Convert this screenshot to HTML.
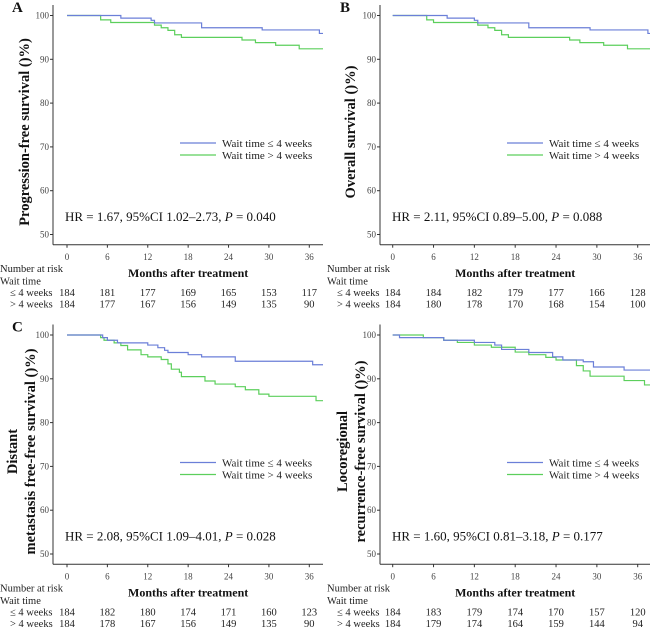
<!DOCTYPE html>
<html><head><meta charset="utf-8"><style>
body{margin:0;background:#fff;}
svg{display:block;font-family:"Liberation Serif",serif;}
</style></head><body>
<svg id="chart" width="650" height="628" viewBox="0 0 650 628" xmlns="http://www.w3.org/2000/svg"></svg>
<script>
const ticksX=[0,6,12,18,24,30,36];
const ticksY=[50,60,70,80,90,100];
const panelLetters=["A","B","C",""];
const yTitles=[["Progression-free survival ()%)"],["Overall survival ()%)"],["Distant","metastasis free-free survival ()%)"],["Locoregional","recurrence-free  survival ()%)"]];
const hrTexts=[["HR = 1.67, 95%CI 1.02–2.73, ","0.040"],["HR = 2.11, 95%CI 0.89–5.00, ","0.088"],["HR = 2.08, 95%CI 1.09–4.01, ","0.028"],["HR = 1.60, 95%CI 0.81–3.18, ","0.177"]];
const riskLow=[[184,181,177,169,165,153,117],[184,184,182,179,177,166,128],[184,182,180,174,171,160,123],[184,183,179,174,170,157,120]];
const riskHigh=[[184,177,167,156,149,135,90],[184,180,178,170,168,154,100],[184,178,167,156,149,135,90],[184,179,174,164,159,144,94]];
// step drops: [month, survival%]
const blueA=[[0,100],[8,99.4],[12.5,98.9],[13,98.3],[20,97.2],[29,96.7],[37.5,95.9]];
const greenA=[[0,100],[5,99],[6.5,98.4],[13,97.8],[14,97.2],[15,96.6],[16,95.6],[17,95.0],[26,94.4],[28,93.8],[31,93.2],[34.5,92.4]];
const blueB=[[0,100],[8,99.4],[12,98.9],[12.5,98.3],[20,97.2],[29,96.7],[37.5,95.9]];
const greenB=[[0,100],[5,99],[6,98.4],[12.5,97.8],[14,97.2],[15,96.6],[16,95.6],[17,95.0],[26,94.4],[27.5,93.8],[31,93.2],[34.5,92.4]];
const blueC=[[0,100],[5.3,99.4],[6,98.8],[7.5,98.2],[12,97.7],[13.5,97.1],[14.5,96.5],[15,96.0],[18,95.5],[20,95.0],[25,94.0],[36.5,93.2]];
const greenC=[[0,100],[5,99.4],[5.5,98.8],[7,98.2],[8,97.6],[9,96.6],[11,95.5],[12,95.0],[14,94.4],[15,93.4],[15.5,92.2],[16.7,91.5],[17,90.5],[20.5,89.5],[22,88.8],[25,88.2],[26.5,87.5],[28.5,86.5],[30,86.0],[37,85.0]];
const blueD=[[0,100],[1,99.4],[7.5,98.8],[12,98.3],[15,97.7],[16,96.7],[20,96.0],[23.5,95.0],[25,94.3],[28,93.9],[29.5,92.7],[34,92.0]];
const greenD=[[0,100],[4.5,99.4],[7.5,98.8],[9.5,98.3],[12,97.7],[14.5,97.2],[18,96.1],[20,95.5],[22.5,94.9],[24,94.3],[27,93.0],[28,91.8],[29,90.6],[34,89.6],[37,88.6]];
const blues=[blueA,blueB,blueC,blueD];
const greens=[greenA,greenB,greenC,greenD];

const svg=document.getElementById('chart');
const NS="http://www.w3.org/2000/svg";
function mk(tag,attrs,parent){const e=document.createElementNS(NS,tag);for(const k in attrs)e.setAttribute(k,attrs[k]);(parent||svg).appendChild(e);return e;}
const panels=[{x0:67,x36:309.3,ax:53,xr:323,oy:0,lx:0,titleX:[25],letterX:12},
{x0:392.7,x36:637.7,ax:380,xr:650,oy:0,lx:327,titleX:[351],letterX:340},
{x0:67,x36:309.3,ax:53,xr:323,oy:319.5,lx:0,titleX:[13,31],letterX:12},
{x0:392.7,x36:637.7,ax:380,xr:650,oy:319.5,lx:327,titleX:[343,361],letterX:340}];
panels.forEach((p,i)=>{
  const g=mk('g',{});
  
  
  const sx=m=>p.x0+(p.x36-p.x0)*m/36;
  const sy=v=>p.oy+15.5+(100-v)*4.38;
  const bottom=p.oy+244.7;
  mk('line',{x1:p.ax,y1:p.oy+5,x2:p.ax,y2:bottom,stroke:'#333','stroke-width':1},g);
  mk('line',{x1:p.ax,y1:bottom,x2:p.xr,y2:bottom,stroke:'#333','stroke-width':1},g);
  ticksY.forEach(v=>{
    mk('line',{x1:p.ax-3,y1:sy(v),x2:p.ax,y2:sy(v),stroke:'#333'},g);
    const t=mk('text',{x:p.ax-4,y:sy(v)+3,'font-size':9,'text-anchor':'end',fill:'#444'},g);t.textContent=v;
    
    
  });
  ticksX.forEach(m=>{
    mk('line',{x1:sx(m),y1:bottom,x2:sx(m),y2:bottom+3,stroke:'#333'},g);
    const t=mk('text',{x:sx(m),y:p.oy+260,'font-size':9,'text-anchor':'middle',fill:'#444'},g);t.textContent=m;
    
    
  });
  function step(data,color,name){
    let d='M'+sx(data[0][0])+','+sy(data[0][1]);
    for(let k=1;k<data.length;k++){d+=' H'+sx(data[k][0])+' V'+sy(data[k][1]);}
    d+=' H'+(p.xr);
    const pa=mk('path',{d:d,fill:'none',stroke:color,'stroke-width':1.2},g);
    
    
  }
  step(greens[i],'#5ccf5c','curve-wait-gt-4-weeks');
  step(blues[i],'#6b7fd8','curve-wait-le-4-weeks');
  const lgx=p.ax+127, lgy=p.oy+143;
  mk('line',{x1:lgx,y1:lgy,x2:lgx+36,y2:lgy,stroke:'#6b7fd8','stroke-width':1.3},g);
  mk('line',{x1:lgx,y1:lgy+12,x2:lgx+36,y2:lgy+12,stroke:'#5ccf5c','stroke-width':1.3},g);
  const l1=mk('text',{x:lgx+42,y:lgy+4,'font-size':11,fill:'#222'},g);l1.textContent='Wait time ≤ 4 weeks';
  
  
  const l2=mk('text',{x:lgx+42,y:lgy+16,'font-size':11,fill:'#222'},g);l2.textContent='Wait time > 4 weeks';
  
  
  const hr=mk('text',{x:p.ax+12,y:p.oy+221,'font-size':13,fill:'#111'},g);
  
  
  hr.textContent=hrTexts[i][0];
  const it=mk('tspan',{'font-style':'italic'},hr);it.textContent='P';
  const rest=mk('tspan',{},hr);rest.textContent=' = '+hrTexts[i][1];
  if(panelLetters[i]){const L=mk('text',{x:p.letterX,y:p.oy+12,'font-size':15,'font-weight':'bold',fill:'#111'},g);L.textContent=panelLetters[i];
  
  }
  const lines=yTitles[i];
  lines.forEach((s,k)=>{
    const cx=p.titleX[k], cy=p.oy+132;
    const t=mk('text',{x:cx,y:cy,'font-size':14.5,'font-weight':'bold','text-anchor':'middle',transform:'rotate(-90 '+cx+' '+cy+')',fill:'#111','dominant-baseline':'central'},g);
    t.textContent=s;
    
    
  });
  const xt=mk('text',{x:(p.x0+p.x36)/2,y:p.oy+277,'font-size':12,'font-weight':'bold','text-anchor':'middle',fill:'#111'},g);
  xt.textContent='Months after treatment';
  
  
  const rl=[['Number at risk',p.oy+272],['Wait time',p.oy+284.5],['≤ 4 weeks',p.oy+296],['> 4 weeks',p.oy+307.5]];
  rl.forEach(([s,y],k)=>{const t=mk('text',{x:p.lx+(k>=2?10:0),y:y,'font-size':10.5,fill:'#222'},g);t.textContent=s;
    
    });
  ticksX.forEach((m,k)=>{
    const a=mk('text',{x:sx(m),y:p.oy+296,'font-size':10.5,'text-anchor':'middle',fill:'#222'},g);a.textContent=riskLow[i][k];
    
    
    const b=mk('text',{x:sx(m),y:p.oy+307.5,'font-size':10.5,'text-anchor':'middle',fill:'#222'},g);b.textContent=riskHigh[i][k];
    
    
  });
});
</script>
</body></html>
